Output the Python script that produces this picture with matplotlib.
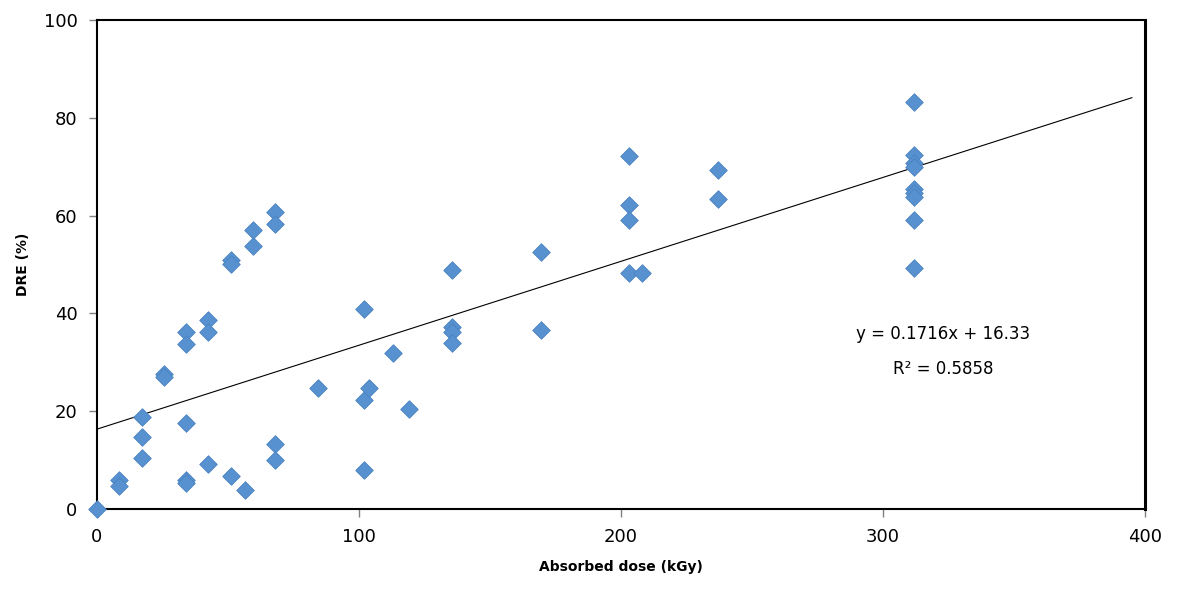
import numpy as np
import matplotlib
matplotlib.use("Agg")
import matplotlib.pyplot as plt

# absorbed dose (kGy) and DRE (%)
dose = [0, 8.4, 8.4,
        17, 17, 17,
        25.5, 25.5,
        34, 34, 34, 34, 34,
        42.5, 42.5, 42.5,
        51, 51, 51,
        59.5, 59.5, 56.5,
        68, 68, 68, 68,
        84.5,
        102, 102, 102, 104, 113, 119,
        135.5, 135.5, 135.5, 135.5,
        169.5, 169.5,
        203, 203, 203, 203, 208,
        237, 237,
        312, 312, 312, 312, 312, 312, 312, 312, 312]
dre = [0, 5.9, 4.7,
       18.9, 14.7, 10.4,
       27.7, 26.9,
       36.1, 33.7, 17.6, 5.9, 5.4,
       38.7, 36.1, 9.2,
       50.9, 50.1, 6.7,
       53.8, 57.1, 3.9,
       60.7, 58.3, 13.3, 10.0,
       24.7,
       40.8, 22.3, 8.0, 24.7, 32.0, 20.4,
       48.9, 37.3, 36.1, 33.9,
       52.5, 36.6,
       72.2, 62.2, 59.1, 48.2, 48.2,
       69.3, 63.4,
       83.2, 72.4, 70.7, 70.0, 65.4, 64.6, 63.9, 59.1, 49.2]

slope = 0.1716
intercept = 16.33
r2 = 0.5858
fit_x = [0, 395]


def main():
    fig = plt.figure(figsize=(11.81, 5.91), dpi=100)
    ax = fig.add_axes([97/1181, 1-509/591, (1145-97)/1181, (509-20)/591])

    ax.scatter(dose, dre, marker="D", s=80, color="#5791CF",
               edgecolors="#4A82C0", linewidths=0.6, zorder=3, clip_on=False)

    fx = np.array(fit_x)
    ax.plot(fx, slope*fx + intercept, color="black", linewidth=0.8, zorder=2)

    ax.text(323, 35.8, f"y = {slope}x + {intercept}", ha="center", va="center",
            fontsize=12)
    ax.text(323, 28.6, f"R² = {r2}", ha="center", va="center", fontsize=12)

    ax.set_xlim(0, 400)
    ax.set_ylim(0, 100)
    ax.set_xticks([0, 100, 200, 300, 400])
    ax.set_yticks([0, 20, 40, 60, 80, 100])

    for side in ["left", "bottom", "top"]:
        ax.spines[side].set_linewidth(1.5)
    ax.spines["right"].set_linewidth(2.2)
    ax.tick_params(axis="both", direction="out", length=6, width=1,
                   color="#808080", labelsize=13, pad=8)
    ax.tick_params(axis="y", pad=8)

    ax.set_xlabel("Absorbed dose (kGy)", fontsize=10, fontweight="bold",
                  labelpad=10)
    ax.set_ylabel("DRE (%)", fontsize=10, fontweight="bold", labelpad=10)

    fig.savefig("out.png", dpi=100)


if __name__ == "__main__":
    main()
